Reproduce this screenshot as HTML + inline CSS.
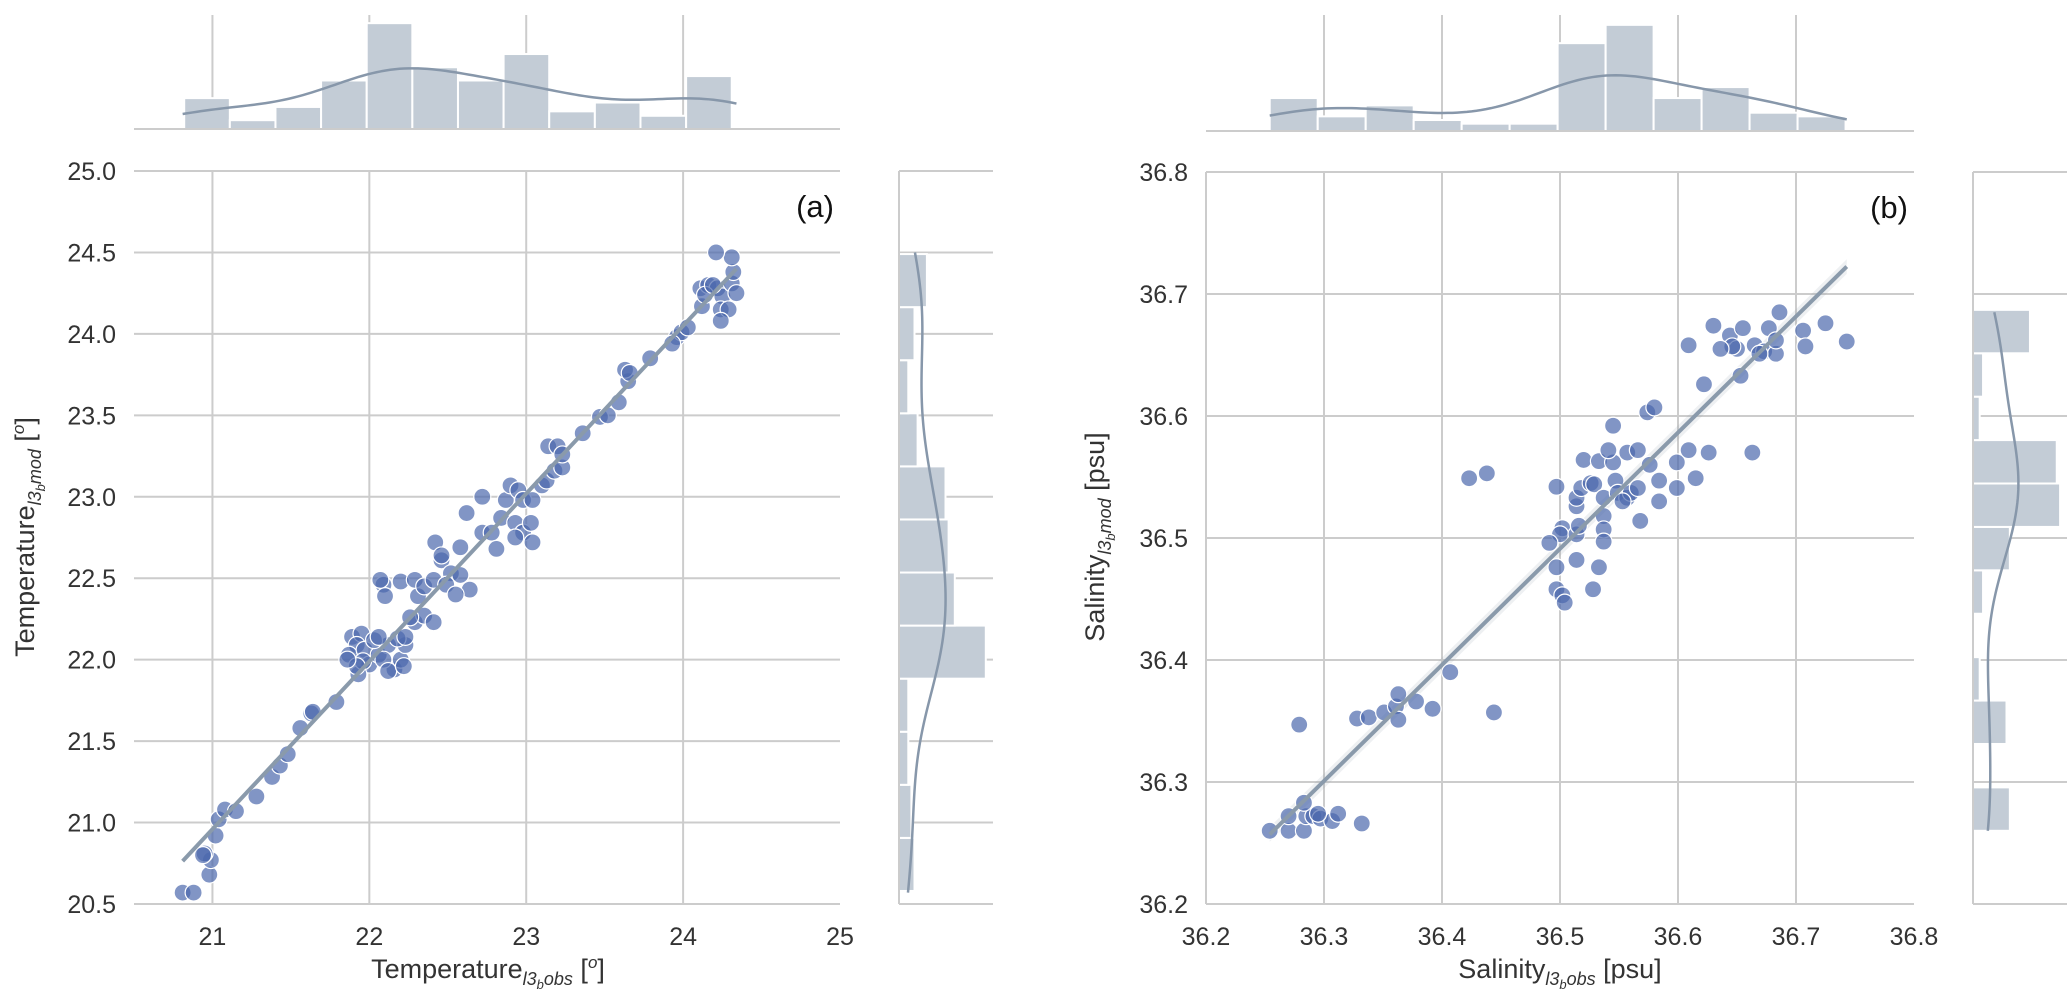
<!DOCTYPE html>
<html><head><meta charset="utf-8"><style>
html,body{margin:0;padding:0;background:#fff}
svg{display:block;font-family:"Liberation Sans",sans-serif}
</style></head><body>
<svg id="chart" width="2067" height="999" viewBox="0 0 2067 999" xmlns="http://www.w3.org/2000/svg"></svg>
<script>
// ---- Panel (a) data: temperature ----
const tempObs = [20.81,20.88,20.98,20.99,20.95,20.94,21.02,21.04,21.08,21.15,21.28,21.38,21.43,21.48,21.56,21.63,21.64,21.79,
21.89,21.95,21.92,21.87,21.97,22.00,22.06,22.12,22.16,22.20,22.23,22.18,21.93,22.03,22.09,21.96,21.92,22.12,22.22,21.86,22.06,
22.09,22.10,22.07,22.20,22.29,22.35,22.41,22.23,22.26,22.31,22.29,22.35,22.41,22.46,22.52,22.49,22.58,22.64,22.55,22.42,22.46,22.58,
22.62,22.72,22.78,22.81,22.72,22.84,22.87,22.90,22.95,22.98,23.04,22.93,22.98,23.03,23.04,22.93,23.10,23.13,23.18,23.23,23.14,23.20,23.23,
23.36,23.47,23.52,23.59,23.65,23.63,23.66,23.79,23.96,23.99,23.93,24.03,24.12,24.11,24.16,24.22,24.25,24.31,24.34,24.32,24.31,24.21,24.24,24.29,24.24,24.14,24.19];
const tempMod = [20.57,20.57,20.68,20.77,20.81,20.80,20.92,21.02,21.08,21.07,21.16,21.28,21.35,21.42,21.58,21.67,21.68,21.74,
22.14,22.16,22.09,22.03,22.06,21.97,22.03,22.09,21.94,22.00,22.09,22.13,21.91,22.12,22.00,21.99,21.96,21.93,21.96,22.00,22.14,
22.46,22.39,22.49,22.48,22.23,22.27,22.23,22.14,22.26,22.39,22.49,22.45,22.49,22.61,22.53,22.46,22.52,22.43,22.40,22.72,22.64,22.69,
22.90,22.78,22.78,22.68,23.00,22.87,22.98,23.07,23.04,22.98,22.98,22.84,22.78,22.84,22.72,22.75,23.07,23.10,23.16,23.18,23.31,23.31,23.26,
23.39,23.49,23.50,23.58,23.71,23.78,23.76,23.85,23.98,24.01,23.94,24.04,24.17,24.28,24.30,24.28,24.23,24.31,24.25,24.38,24.47,24.50,24.15,24.15,24.08,24.24,24.30];
const tempXTicks = [21,22,23,24,25];
const tempYTicks = [20.5,21.0,21.5,22.0,22.5,23.0,23.5,24.0,24.5,25.0];
const tempXBinRange = [20.82,24.31];
const tempXCounts = [7,2,5,11,24,14,11,17,4,6,3,12];
const tempYBinRange = [20.58,24.49];
const tempYCounts = [5,4,3,3,28,18,16,15,6,3,5,9];

// ---- Panel (b) data: salinity ----
const salObs = [36.254,36.270,36.283,36.285,36.291,36.297,36.307,36.312,36.332,36.270,36.283,36.295,36.279,36.328,36.338,36.351,36.361,36.363,36.363,36.378,36.392,36.407,36.444,36.423,36.438,
36.497,36.502,36.500,36.491,36.497,36.497,36.502,36.504,36.528,36.533,36.514,36.514,36.516,36.514,36.514,36.518,36.526,36.529,36.537,36.537,36.537,36.537,36.520,36.533,36.545,36.541,36.557,36.566,36.576,36.547,36.549,36.557,36.560,36.566,36.553,36.568,36.584,36.584,36.599,36.599,36.609,36.626,36.615,36.545,36.574,36.580,36.663,
36.609,36.622,36.630,36.644,36.650,36.646,36.653,36.655,36.665,36.673,36.677,36.683,36.686,36.683,36.706,36.708,36.725,36.743,36.636,36.669];
const salMod = [36.260,36.260,36.260,36.272,36.272,36.270,36.268,36.274,36.266,36.272,36.283,36.274,36.347,36.352,36.353,36.357,36.362,36.351,36.372,36.366,36.360,36.390,36.357,36.549,36.553,
36.542,36.508,36.503,36.496,36.476,36.458,36.453,36.447,36.458,36.476,36.482,36.503,36.510,36.526,36.533,36.541,36.545,36.544,36.533,36.518,36.507,36.497,36.564,36.563,36.562,36.572,36.570,36.572,36.560,36.547,36.537,36.533,36.537,36.541,36.530,36.514,36.547,36.530,36.541,36.562,36.572,36.570,36.549,36.592,36.603,36.607,36.570,
36.658,36.626,36.674,36.666,36.655,36.657,36.633,36.672,36.658,36.653,36.672,36.651,36.685,36.662,36.670,36.657,36.676,36.661,36.655,36.651];
const salXTicks = [36.2,36.3,36.4,36.5,36.6,36.7,36.8];
const salYTicks = [36.2,36.3,36.4,36.5,36.6,36.7,36.8];
const salXBinRange = [36.254,36.742];
const salXCounts = [9,4,7,3,2,2,24,29,9,12,5,4];
const salYBinRange = [36.26,36.687];
const salYCounts = [11,0,10,2,0,3,11,26,25,2,3,17];

const NS="http://www.w3.org/2000/svg";
const svg=document.getElementById('chart');
function mk(tag,attrs,parent){const e=document.createElementNS(NS,tag);for(const k in attrs)e.setAttribute(k,attrs[k]);(parent||svg).appendChild(e);return e;}
const GRID="#cccccc", BAR="#c3ccd6", KDE="#8797aa", DOT="#4c68ad", LINE="#8a9aab";

function kde(vals,xs){const n=vals.length;const m=vals.reduce((a,b)=>a+b,0)/n;
  const sd=Math.sqrt(vals.reduce((a,b)=>a+(b-m)*(b-m),0)/(n-1));const h=sd*Math.pow(n,-0.2);
  return xs.map(x=>vals.reduce((s,v)=>s+Math.exp(-0.5*((x-v)/h)**2),0)/(n*h*Math.sqrt(2*Math.PI)));}
function ols(xs,ys){const n=xs.length;const mx=xs.reduce((a,b)=>a+b,0)/n,my=ys.reduce((a,b)=>a+b,0)/n;
  let sxy=0,sxx=0;for(let i=0;i<n;i++){sxy+=(xs[i]-mx)*(ys[i]-my);sxx+=(xs[i]-mx)**2;}const b=sxy/sxx;return [my-b*mx,b];}

function panel(p){
  const g=mk('g',{});
  
  
  const X=v=>p.x0+(v-p.xmin)/(p.xmax-p.xmin)*(p.x1-p.x0);
  const Y=v=>p.y1-(v-p.ymin)/(p.ymax-p.ymin)*(p.y1-p.y0);
  // main grid
  const grid=mk('g',{stroke:GRID,'stroke-width':2},g);
  
  
  p.yTicks.forEach(t=>mk('line',{x1:p.x0,x2:p.x1,y1:Y(t),y2:Y(t)},grid));
  p.xTicks.forEach(t=>{if(X(t)<p.x1-2)mk('line',{x1:X(t),x2:X(t),y1:p.y0,y2:p.y1},grid);});
  // tick labels
  p.yTicks.forEach(t=>{const e=mk('text',{x:p.x0-18,y:Y(t)+9,'text-anchor':'end','font-size':25,fill:'#333'},g);e.textContent=t.toFixed(1);
    
    });
  p.xTicks.forEach(t=>{const e=mk('text',{x:X(t),y:945,'text-anchor':'middle','font-size':25,fill:'#333'},g);e.textContent=p.xfmt(t);
    
    });
  // regression
  const [a,b]=ols(p.xs,p.ys);const lx0=Math.min(...p.xs),lx1=Math.max(...p.xs);
  if(p.band){const band=mk('polygon',{points:[[lx0,a+b*lx0+p.band],[lx1,a+b*lx1+p.band],[lx1,a+b*lx1-p.band],[lx0,a+b*lx0-p.band]].map(q=>X(q[0])+','+Y(q[1])).join(' '),fill:'#8a9aab','fill-opacity':0.15},g);
    
    }
  // scatter
  const sc=mk('g',{},g);
  
  
  p.xs.forEach((v,i)=>{const c=mk('circle',{cx:X(v),cy:Y(p.ys[i]),r:8.5,fill:DOT,'fill-opacity':0.7,stroke:'#fff','stroke-width':1.2},sc);
    
    });
  const rl=mk('line',{x1:X(lx0),y1:Y(a+b*lx0),x2:X(lx1),y2:Y(a+b*lx1),stroke:LINE,'stroke-width':4},g);
  
  
  // panel letter
  const lt=mk('text',{x:p.x1-6,y:p.y0+46,'text-anchor':'end','font-size':31,fill:'#111'},g);lt.textContent=p.letter;
  
  

  // top marginal
  const tm=mk('g',{},g);
  
  
  p.xTicks.forEach(t=>{if(X(t)>p.x0+2&&X(t)<p.x1-2)mk('line',{x1:X(t),x2:X(t),y1:15,y2:p.tb,stroke:GRID,'stroke-width':2},tm);});
  const nb=p.xCounts.length,bw=(p.xBin[1]-p.xBin[0])/nb;
  p.xCounts.forEach((c,i)=>{const r=mk('rect',{x:X(p.xBin[0]+i*bw),y:p.tb-c*p.tu,width:X(p.xBin[0]+(i+1)*bw)-X(p.xBin[0]+i*bw),height:c*p.tu,fill:BAR,stroke:'#fff','stroke-width':2},tm);
    
    });
  mk('line',{x1:p.x0,x2:p.x1,y1:p.tb,y2:p.tb,stroke:GRID,'stroke-width':2},tm);
  {const N=p.xCounts.reduce((s,c)=>s+c,0);const xs=[];for(let i=0;i<=120;i++)xs.push(lx0+(lx1-lx0)*i/120);
   const d=kde(p.xs,xs);const k=mk('polyline',{points:xs.map((x,i)=>X(x)+','+(p.tb-d[i]*N*bw*p.tu)).join(' '),fill:'none',stroke:KDE,'stroke-width':2.5},tm);
   
   }

  // side marginal
  const sm=mk('g',{},g);
  
  
  p.yTicks.forEach(t=>{if(Y(t)>p.y0+2)mk('line',{x1:p.sb,x2:p.sb+p.sw,y1:Y(t),y2:Y(t),stroke:GRID,'stroke-width':2},sm);});
  mk('line',{x1:p.sb,x2:p.sb+p.sw,y1:p.y0,y2:p.y0,stroke:GRID,'stroke-width':2},sm);
  const nby=p.yCounts.length,bh=(p.yBin[1]-p.yBin[0])/nby;
  p.yCounts.forEach((c,i)=>{if(!c)return;const r=mk('rect',{x:p.sb,y:Y(p.yBin[0]+(i+1)*bh),width:c*p.su,height:Y(p.yBin[0]+i*bh)-Y(p.yBin[0]+(i+1)*bh),fill:BAR,stroke:'#fff','stroke-width':2},sm);
    
    });
  mk('line',{x1:p.sb,x2:p.sb,y1:p.y0,y2:p.y1,stroke:GRID,'stroke-width':2},sm);
  {const N=p.yCounts.reduce((s,c)=>s+c,0);const y0=Math.min(...p.ys),y1=Math.max(...p.ys);const ys=[];for(let i=0;i<=120;i++)ys.push(y0+(y1-y0)*i/120);
   const d=kde(p.ys,ys);const k=mk('polyline',{points:ys.map((y,i)=>(p.sb+d[i]*N*bh*p.su)+','+Y(y)).join(' '),fill:'none',stroke:KDE,'stroke-width':2.5},sm);
   
   }
}

panel({id:'temperature',letter:'(a)',x0:134,x1:840,y0:171,y1:904,xmin:20.5,xmax:25,ymin:20.5,ymax:25,
  xs:tempObs,ys:tempMod,xTicks:tempXTicks,yTicks:tempYTicks,xfmt:t=>String(t),
  xBin:tempXBinRange,xCounts:tempXCounts,yBin:tempYBinRange,yCounts:tempYCounts,
  tb:129,tu:4.41,sb:899,sw:94,su:3.1,band:0});
panel({id:'salinity',letter:'(b)',x0:1206,x1:1914,y0:172,y1:904,xmin:36.2,xmax:36.8,ymin:36.2,ymax:36.8,
  xs:salObs,ys:salMod,xTicks:salXTicks,yTicks:salYTicks,xfmt:t=>t.toFixed(1),
  xBin:salXBinRange,xCounts:salXCounts,yBin:salYBinRange,yCounts:salYCounts,
  tb:131,tu:3.66,sb:1973,sw:94,su:3.35,band:0.006});
</script>
<svg width="0" height="0"></svg>
<script>
(function(){
const NS="http://www.w3.org/2000/svg";const svg=document.getElementById('chart');
function title(name,x,y,rot,main,sub,unit,sup){
  const t=document.createElementNS(NS,'text');
  
  
  t.setAttribute('text-anchor','middle');t.setAttribute('font-size','27');t.setAttribute('fill','#333');
  t.setAttribute('x',x);t.setAttribute('y',y);
  if(rot)t.setAttribute('transform','rotate(-90 '+x+' '+y+')');
  t.innerHTML=main+'<tspan font-style="italic" font-size="18" dy="7">l3</tspan><tspan font-style="italic" font-size="13" dy="4">b</tspan><tspan font-style="italic" font-size="18" dy="-4">'+sub+'</tspan><tspan dy="-7"> [</tspan>'+(sup?'<tspan font-style="italic" font-size="17" dy="-10">o</tspan><tspan dy="10">]</tspan>':unit+']');
  svg.appendChild(t);
}
title('x-axis-title-temperature',488,978,false,'Temperature','obs','',true);
title('y-axis-title-temperature',34,537,true,'Temperature','mod','',true);
title('x-axis-title-salinity',1560,978,false,'Salinity','obs','psu',false);
title('y-axis-title-salinity',1104,537,true,'Salinity','mod','psu',false);
})();
</script>
</body></html>
